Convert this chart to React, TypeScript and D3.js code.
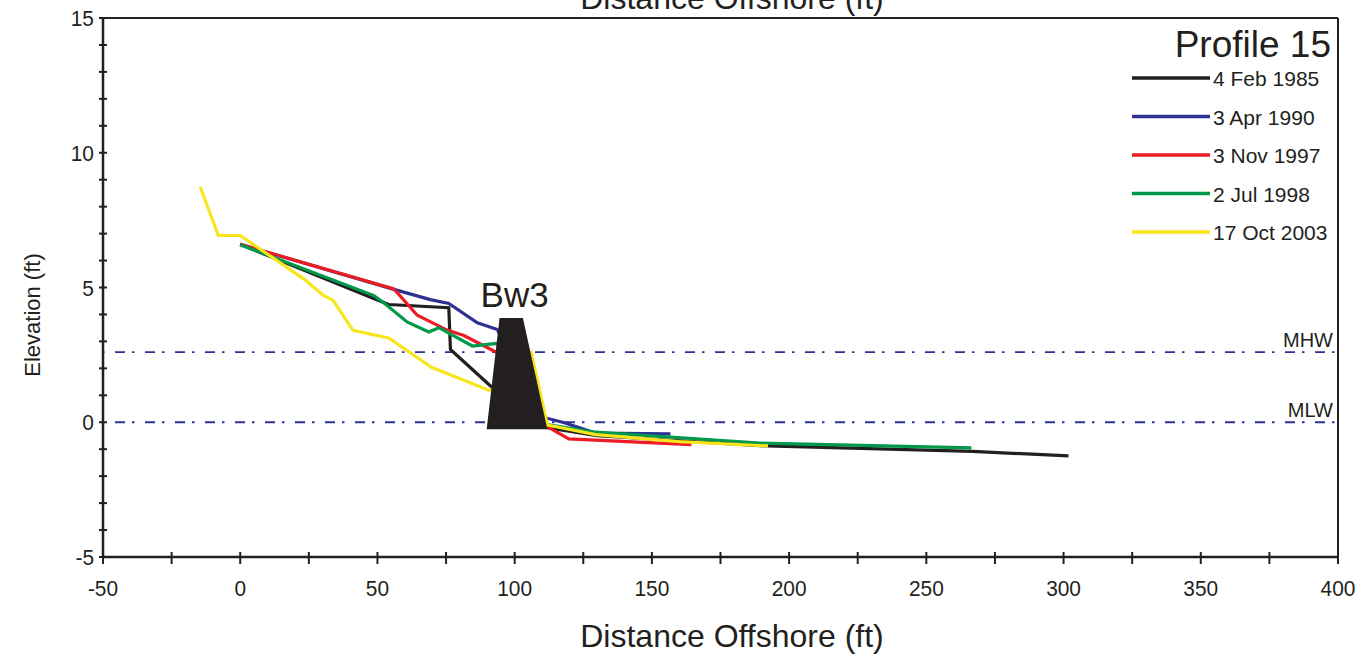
import React, { useRef, useEffect } from 'react';
import * as d3 from 'd3';

// survey profiles, distance offshore (ft) / elevation (ft)
const surveyNames = ['4 Feb 1985', '3 Apr 1990', '3 Nov 1997', '2 Jul 1998', '17 Oct 2003'];
const surveyColors = ['#231f20', '#2e3192', '#ed1c24', '#00984a', '#f9e51c'];

const feb1985X = [0, 51.1, 54.1, 76, 76.6, 91.9, 100, 111.8, 130, 192, 266.8, 301.8];
const feb1985Y = [6.6, 4.49, 4.37, 4.25, 2.7, 1.28, 0.5, -0.2, -0.5, -0.88, -1.08, -1.25];

const apr1990X = [0, 56, 69.3, 76, 86.4, 93.7, 100, 111.4, 118.1, 129.5, 156.8];
const apr1990Y = [6.6, 4.93, 4.55, 4.41, 3.69, 3.44, 2.0, 0.16, -0.02, -0.4, -0.43];

const nov1997X = [0, 56, 64.5, 68.1, 75.4, 81.5, 93.7, 100, 111.7, 119.7, 164.4];
const nov1997Y = [6.6, 4.95, 3.97, 3.79, 3.42, 3.22, 2.58, 1.5, -0.15, -0.62, -0.83];

const jul1998X = [0, 48.7, 52.3, 60.8, 68.7, 72.4, 84.6, 93.7, 100, 111.8, 129.5, 189.3, 266.4];
const jul1998Y = [6.59, 4.7, 4.43, 3.72, 3.35, 3.51, 2.83, 2.93, 1.5, -0.09, -0.37, -0.77, -0.95];

const oct2003X = [-14.6, -8, 0, 23.1, 30.4, 33.8, 41.1, 54.1, 69.7, 91.2, 100, 106, 111.9, 129.5, 160, 192.3];
const oct2003Y = [8.74, 6.93, 6.93, 5.32, 4.7, 4.53, 3.41, 3.13, 2.04, 1.16, 2.0, 2.6, -0.1, -0.46, -0.72, -0.88];

const surveysX = [feb1985X, apr1990X, nov1997X, jul1998X, oct2003X];
const surveysY = [feb1985Y, apr1990Y, nov1997Y, jul1998Y, oct2003Y];

// breakwater Bw3 cross-section
const breakwaterX = [89.8, 94.5, 103, 111.9];
const breakwaterY = [-0.26, 3.87, 3.87, -0.26];

const tideNames = ['MHW', 'MLW'];
const tideLevels = [2.6, 0];

const xTicks = [-50, 0, 50, 100, 150, 200, 250, 300, 350, 400];
const xMinorTicks = d3.range(-50, 401, 25);
const yTicks = [-5, 0, 5, 10, 15];
const yMinorTicks = d3.range(-5, 16, 1);

const FONT = '"Liberation Sans", Arial, Helvetica, sans-serif';

const App = () => {
    const ref = useRef<SVGSVGElement>(null);

    useEffect(() => {
        if (!ref.current) return;
        const svg = d3.select(ref.current);
        svg.selectAll('*').remove();

        const left = 103, right = 1338, top = 18, bottom = 557;
        const x = d3.scaleLinear().domain([-50, 400]).range([left, right]);
        const y = d3.scaleLinear().domain([-5, 15]).range([bottom, top]);

        // tide levels
        tideLevels.forEach((lvl, i) => {
            svg.append('line')
                .attr('x1', left).attr('x2', right)
                .attr('y1', y(lvl)).attr('y2', y(lvl))
                .attr('stroke', '#2e3192')
                .attr('stroke-width', 1.8)
                .attr('stroke-dasharray', '10,7,2.5,10.5')
                .attr('stroke-dashoffset', 18);
            svg.append('text')
                .attr('x', right - 5)
                .attr('y', y(lvl) - 5)
                .attr('text-anchor', 'end')
                .style('font-family', FONT)
                .style('font-size', '20px')
                .style('fill', '#231f20')
                .text(tideNames[i]);
        });

        // profiles
        surveysX.forEach((xs, i) => {
            const pts: [number, number][] = xs.map((v, j) => [x(v), y(surveysY[i][j])]);
            svg.append('path')
                .attr('d', d3.line()(pts))
                .attr('fill', 'none')
                .attr('stroke', surveyColors[i])
                .attr('stroke-width', 3.2)
                .attr('stroke-linejoin', 'miter');
        });

        // breakwater
        const bwPts: [number, number][] = breakwaterX.map((v, j) => [x(v), y(breakwaterY[j])]);
        svg.append('path')
            .attr('d', d3.line()(bwPts) + 'Z')
            .attr('fill', '#231f20');
        svg.append('text')
            .attr('x', x(100))
            .attr('y', 307)
            .attr('text-anchor', 'middle')
            .style('font-family', FONT)
            .style('font-size', '35px')
            .style('fill', '#231f20')
            .text('Bw3');

        // frame
        svg.append('line').attr('x1', left).attr('x2', right).attr('y1', top).attr('y2', top)
            .attr('stroke', '#231f20').attr('stroke-width', 2);
        svg.append('line').attr('x1', right).attr('x2', right).attr('y1', top).attr('y2', bottom)
            .attr('stroke', '#231f20').attr('stroke-width', 2);
        svg.append('line').attr('x1', left).attr('x2', left).attr('y1', top - 1).attr('y2', bottom + 1)
            .attr('stroke', '#231f20').attr('stroke-width', 2.5);
        svg.append('line').attr('x1', left).attr('x2', right).attr('y1', bottom).attr('y2', bottom)
            .attr('stroke', '#231f20').attr('stroke-width', 2.5);

        // x ticks
        xMinorTicks.forEach(t => {
            svg.append('line')
                .attr('x1', x(t)).attr('x2', x(t))
                .attr('y1', bottom - 5).attr('y2', bottom + 7)
                .attr('stroke', '#231f20').attr('stroke-width', 2);
        });
        xTicks.forEach(t => {
            svg.append('text')
                .attr('transform', `translate(${x(t)},596) scale(0.95,1)`)
                .attr('text-anchor', 'middle')
                .style('font-family', FONT)
                .style('font-size', '22px')
                .style('fill', '#231f20')
                .text(t);
        });

        // y ticks
        yMinorTicks.forEach(t => {
            svg.append('line')
                .attr('x1', left - 4).attr('x2', left + 4)
                .attr('y1', y(t)).attr('y2', y(t))
                .attr('stroke', '#231f20').attr('stroke-width', 2);
        });
        yTicks.forEach(t => {
            svg.append('text')
                .attr('transform', `translate(94,${y(t) + 8}) scale(0.95,1)`)
                .attr('text-anchor', 'end')
                .style('font-family', FONT)
                .style('font-size', '22px')
                .style('fill', '#231f20')
                .text(t);
        });

        // axis titles (the top copy is clipped by the page edge, as in the source)
        ['top', 'bottom'].forEach(pos => {
            svg.append('text')
                .attr('x', 732)
                .attr('y', pos === 'top' ? 9 : 647)
                .attr('text-anchor', 'middle')
                .style('font-family', FONT)
                .style('font-size', '32px')
                .style('fill', '#231f20')
                .text('Distance Offshore (ft)');
        });
        svg.append('text')
            .attr('transform', 'translate(39.5,315) rotate(-90)')
            .attr('text-anchor', 'middle')
            .style('font-family', FONT)
            .style('font-size', '22px')
            .style('fill', '#231f20')
            .text('Elevation (ft)');

        // legend
        svg.append('text')
            .attr('x', 1331)
            .attr('y', 57)
            .attr('text-anchor', 'end')
            .style('font-family', FONT)
            .style('font-size', '37px')
            .style('fill', '#231f20')
            .text('Profile 15');
        const legendY = d3.scalePoint<string>().domain(surveyNames).range([78, 232]);
        surveyNames.forEach((name, i) => {
            const ly = legendY(name) as number;
            svg.append('line')
                .attr('x1', 1132).attr('x2', 1210)
                .attr('y1', ly).attr('y2', ly)
                .attr('stroke', surveyColors[i])
                .attr('stroke-width', 3.5);
            svg.append('text')
                .attr('x', 1213)
                .attr('y', ly + 8)
                .style('font-family', FONT)
                .style('font-size', '21px')
                .style('fill', '#231f20')
                .text(name);
        });
    }, []);

    return (
        <svg
            ref={ref}
            width={1362}
            height={655}
            style={{ position: 'absolute', left: 0, top: 0, background: '#fff' }}
        />
    );
};

export default App;
